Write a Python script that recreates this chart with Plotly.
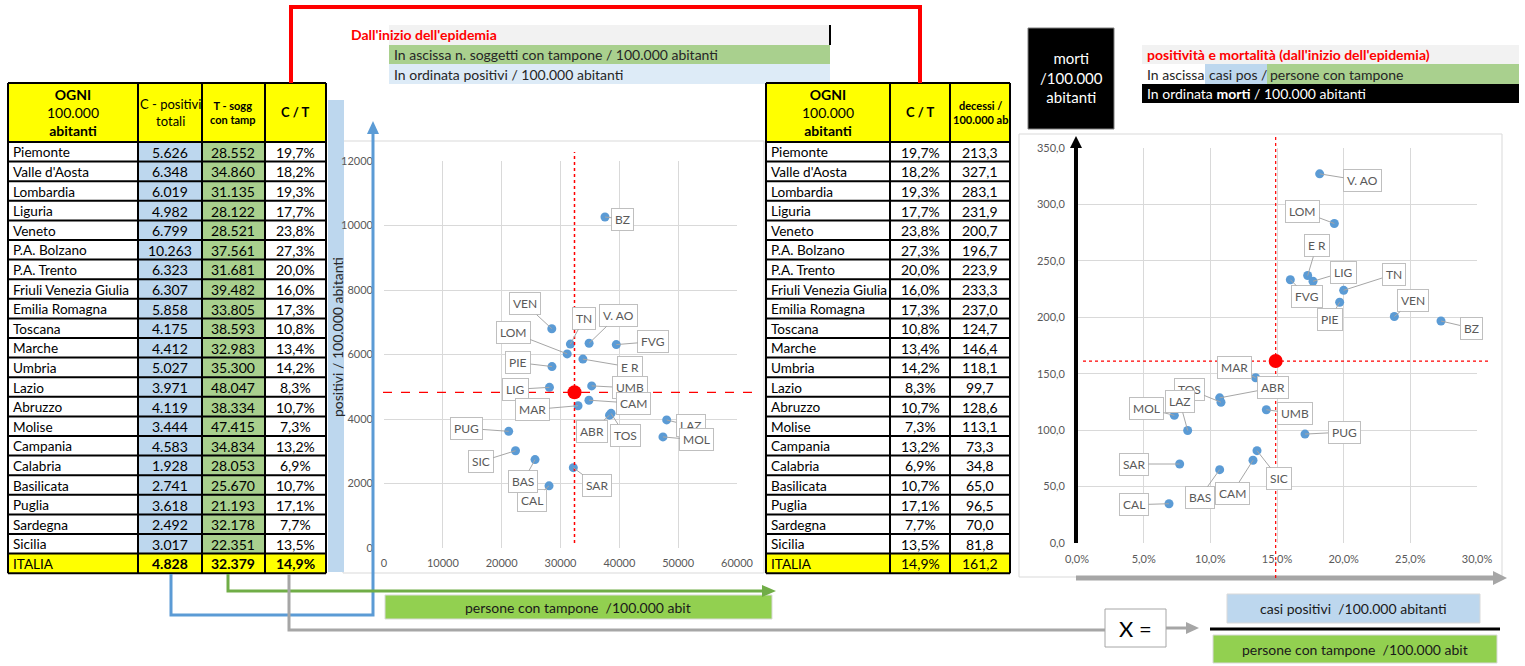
import plotly.graph_objects as go

W, H = 1525, 666

# ---------------- data ----------------
regions = ["Piemonte", "Valle d'Aosta", "Lombardia", "Liguria", "Veneto", "P.A. Bolzano",
           "P.A. Trento", "Friuli Venezia Giulia", "Emilia Romagna", "Toscana", "Marche",
           "Umbria", "Lazio", "Abruzzo", "Molise", "Campania", "Calabria", "Basilicata",
           "Puglia", "Sardegna", "Sicilia"]
abbr = ["PIE", "V. AO", "LOM", "LIG", "VEN", "BZ", "TN", "FVG", "E R", "TOS", "MAR",
        "UMB", "LAZ", "ABR", "MOL", "CAM", "CAL", "BAS", "PUG", "SAR", "SIC"]
positivi = [5626, 6348, 6019, 4982, 6799, 10263, 6323, 6307, 5858, 4175, 4412,
            5027, 3971, 4119, 3444, 4583, 1928, 2741, 3618, 2492, 3017]
tamponi = [28552, 34860, 31135, 28122, 28521, 37561, 31681, 39482, 33805, 38593, 32983,
           35300, 48047, 38334, 47415, 34834, 28053, 25670, 21193, 32178, 22351]
ct_pct = [19.7, 18.2, 19.3, 17.7, 23.8, 27.3, 20.0, 16.0, 17.3, 10.8, 13.4,
          14.2, 8.3, 10.7, 7.3, 13.2, 6.9, 10.7, 17.1, 7.7, 13.5]
decessi = [213.3, 327.1, 283.1, 231.9, 200.7, 196.7, 223.9, 233.3, 237.0, 124.7, 146.4,
           118.1, 99.7, 128.6, 113.1, 73.3, 34.8, 65.0, 96.5, 70.0, 81.8]
italia_pos = 4828
italia_tamp = 32379
italia_ct = 14.9
italia_dec = 161.2

# label box offsets (pixels) – layout only
off_mid = {"BZ": (18, 2), "VEN": (-27, -25), "TN": (14, -26), "V. AO": (29, -28),
           "FVG": (37, -3), "LOM": (-54, -21), "E R": (47, 8), "PIE": (-34, -4),
           "LIG": (-34, 2), "UMB": (38, 2), "CAM": (45, 3), "MAR": (-46, 4),
           "TOS": (14, 22), "ABR": (-18, 16), "LAZ": (24, 6), "MOL": (34, 3),
           "PUG": (-42, -3), "SIC": (-35, 11), "BAS": (-12, 22), "CAL": (-17, 15),
           "SAR": (24, 18)}
off_right = {"V. AO": (43, 7), "LOM": (-32, -12), "E R": (9, -30), "LIG": (30, -9),
             "FVG": (17, 17), "TN": (50, -16), "PIE": (-10, 17), "VEN": (19, -16),
             "BZ": (30, 7), "MAR": (-21, -10), "TOS": (-32, -13), "ABR": (53, -10),
             "MOL": (-28, -7), "LAZ": (-8, -29), "UMB": (29, 4), "PUG": (39, -2),
             "SIC": (22, 28), "CAM": (-21, 33), "SAR": (-46, 0), "BAS": (-20, 28),
             "CAL": (-35, 1)}

FONT = "Lato"
BLUE_PT = "#5B9BD5"
LBLUE = "#BDD7EE"
LGREEN = "#A9D08E"
GREEN = "#92D050"
YEL = "#FFFF00"
GRID = "#D9D9D9"
TXT = "#595959"


def px(x):
    return x / W


def py(y):
    return 1 - y / H


def fint(v):
    return f"{v:,}".replace(",", ".")


def fdec(v, suffix=""):
    return f"{v:.1f}".replace(".", ",") + suffix


fig = go.Figure()
annotations = []
shapes = []


def txt(x, y, s, size=14, color="#262626", xanchor="left", angle=0):
    annotations.append(dict(x=px(x), y=py(y), xref="paper", yref="paper", text=s, showarrow=False,
                            xanchor=xanchor, yanchor="middle", textangle=angle,
                            font=dict(family=FONT, size=size, color=color)))


def rect(x0, y0, x1, y1, fill, line="rgba(0,0,0,0)", lw=1, layer="below"):
    shapes.append(dict(type="rect", xref="paper", yref="paper", x0=px(x0), x1=px(x1),
                       y0=py(y1), y1=py(y0), fillcolor=fill, line=dict(color=line, width=lw),
                       layer=layer))


def path(pts, color, width, closed=False, fill=None, layer="above"):
    d = "M " + " L ".join(f"{px(x):.5f},{py(y):.5f}" for x, y in pts)
    if closed:
        d += " Z"
    shapes.append(dict(type="path", xref="paper", yref="paper", path=d,
                       line=dict(color=color, width=width if not closed else 0),
                       fillcolor=fill if fill else "rgba(0,0,0,0)", layer=layer))


# ---------------- tables (cells drawn from the data lists) ----------------
TOP, HEAD_B, ROW_H = 83, 142, 19.6


def draw_table(xedges, headers, header_sizes, columns, col_fills, aligns):
    nrows = len(columns[0])
    bottom = HEAD_B + nrows * ROW_H
    rect(xedges[0], TOP, xedges[-1], HEAD_B, YEL)
    for i, (h, s) in enumerate(zip(headers, header_sizes)):
        txt((xedges[i] + xedges[i + 1]) / 2, (TOP + HEAD_B) / 2, h, s, "black", "center")
    for c, col in enumerate(columns):
        for r, val in enumerate(col):
            y0 = HEAD_B + r * ROW_H
            rect(xedges[c], y0, xedges[c + 1], y0 + ROW_H, col_fills[c][r])
            if aligns[c] == "left":
                txt(xedges[c] + 2.5, y0 + ROW_H / 2 + 0.5, val, 13.6, "black", "left")
            else:
                txt((xedges[c] + xedges[c + 1]) / 2, y0 + ROW_H / 2 + 0.5, val, 14, "black", "center")
    for x in xedges:
        path([(x, TOP), (x, bottom)], "black", 2)
    path([(xedges[0], TOP), (xedges[-1], TOP)], "black", 2)
    for r in range(nrows + 1):
        y = HEAD_B + r * ROW_H
        path([(xedges[0], y), (xedges[-1], y)], "black", 2)


n = len(regions)
draw_table(
    [8, 138, 202, 265, 326],
    ["<b>OGNI</b><br>100.000<br><b>abitanti</b>", "C - positivi<br>totali",
     "<b>T - sogg<br>con tamp</b>", "<b>C / T</b>"],
    [14, 13, 11, 13],
    [regions + ["ITALIA"],
     [fint(v) for v in positivi] + [f"<b>{fint(italia_pos)}</b>"],
     [fint(v) for v in tamponi] + [f"<b>{fint(italia_tamp)}</b>"],
     [fdec(v, "%") for v in ct_pct] + [f"<b>{fdec(italia_ct, '%')}</b>"]],
    [["white"] * n + [YEL], [LBLUE] * n + [YEL], [LGREEN] * n + [YEL], ["white"] * n + [YEL]],
    ["left", "center", "center", "center"],
)
draw_table(
    [766, 890, 950, 1010],
    ["<b>OGNI</b><br>100.000<br><b>abitanti</b>", "<b>C / T</b>", "<b>decessi /<br>100.000 ab</b>"],
    [14, 13, 11],
    [regions + ["ITALIA"],
     [fdec(v, "%") for v in ct_pct] + [fdec(italia_ct, "%")],
     [fdec(v) for v in decessi] + [fdec(italia_dec)]],
    [["white"] * n + [YEL]] * 3,
    ["left", "center", "center"],
)

# ---------------- scatter: positivi vs tamponi ----------------
fig.add_trace(go.Scatter(x=tamponi, y=positivi, mode="markers", xaxis="x", yaxis="y",
                         marker=dict(color=BLUE_PT, size=9), hoverinfo="skip", showlegend=False))
fig.add_trace(go.Scatter(x=[italia_tamp], y=[italia_pos], mode="markers", xaxis="x", yaxis="y",
                         marker=dict(color="red", size=14), hoverinfo="skip", showlegend=False))

# ---------------- scatter: mortality vs positivity ----------------
fig.add_trace(go.Scatter(x=[v / 100 for v in ct_pct], y=decessi, mode="markers", xaxis="x2", yaxis="y2",
                         marker=dict(color=BLUE_PT, size=9), hoverinfo="skip", showlegend=False))
fig.add_trace(go.Scatter(x=[italia_ct / 100], y=[italia_dec], mode="markers", xaxis="x2", yaxis="y2",
                         marker=dict(color="red", size=14), hoverinfo="skip", showlegend=False))

for a, xv, yv in zip(abbr, tamponi, positivi):
    dx, dy = off_mid[a]
    annotations.append(dict(x=xv, y=yv, xref="x", yref="y", text=a, showarrow=True,
                            arrowhead=0, arrowwidth=1, arrowcolor="#A6A6A6", ax=dx, ay=dy,
                            bordercolor="#BFBFBF", borderwidth=1, borderpad=3, bgcolor="white",
                            font=dict(family=FONT, size=12, color=TXT)))
for a, xv, yv in zip(abbr, ct_pct, decessi):
    dx, dy = off_right[a]
    annotations.append(dict(x=xv / 100, y=yv, xref="x2", yref="y2", text=a, showarrow=True,
                            arrowhead=0, arrowwidth=1, arrowcolor="#A6A6A6", ax=dx, ay=dy,
                            bordercolor="#BFBFBF", borderwidth=1, borderpad=3, bgcolor="white",
                            font=dict(family=FONT, size=12, color=TXT)))

txt(349, 35, "<b>Dall'inizio dell'epidemia</b>", 14, "red")
txt(392, 55, "In ascissa n. soggetti con tampone / 100.000 abitanti", 14)
txt(392, 74, "In ordinata positivi / 100.000 abitanti", 14)
txt(337, 337, "positivi / 100.000 abitanti", 14, "#262626", "center", -90)
txt(578, 607, "persone con tampone  /100.000 abit", 14, "#1a1a1a", "center")
txt(1071, 77, "morti<br>/100.000<br>abitanti", 15, "white", "center")
txt(1145, 54, "<b>positività e mortalità (dall'inizio dell'epidemia)</b>", 14, "red")
txt(1145, 74, "In ascissa", 14)
txt(1207, 74, "casi pos /", 14)
txt(1268, 74, "persone con tampone", 14)
txt(1145, 93, "In ordinata <b>morti</b> / 100.000 abitanti", 14, "white")
txt(1135, 628, "X =", 22, "black", "center")
txt(1353, 608, "casi positivi  /100.000 abitanti", 14, "#1a1a1a", "center")
txt(1355, 649, "persone con tampone  /100.000 abit", 14, "#1a1a1a", "center")

# chart frames and bands
rect(343, 141, 764, 573, "white", GRID, 1)
rect(328, 100, 344, 572, LBLUE)
rect(389, 25, 830, 45, "#F2F2F2")
rect(829, 25, 831, 45, "black")
rect(389, 45, 830, 64, LGREEN)
rect(389, 64, 830, 84, "#DDEBF7")
rect(1019, 134, 1502, 577, "white", GRID, 1)
rect(1028, 28, 1114, 129, "black", "#7F7F7F", 1)
rect(1142, 45, 1519, 64, "#F2F2F2")
rect(1205, 64, 1267, 84, LBLUE)
rect(1267, 64, 1519, 84, LGREEN)
rect(1142, 84, 1519, 103, "black")
rect(385, 595, 772, 619, GREEN, GRID, 1)
rect(1105, 609, 1166, 647, "white", "#A6A6A6", 1)
rect(1227, 594, 1480, 623, LBLUE, GRID, 1)
rect(1213, 635, 1497, 663, GREEN, GRID, 1)

# connector lines
path([(291, 83), (291, 7), (920, 7), (920, 83)], "red", 4)
path([(171, 574), (171, 615), (373, 615), (373, 132)], BLUE_PT, 3)
path([(367, 134), (379, 134), (373, 121)], BLUE_PT, 0, True, BLUE_PT)
path([(228, 574), (228, 591), (764, 591)], "#70AD47", 3)
path([(762, 585), (762, 597), (776, 591)], "#70AD47", 0, True, "#70AD47")
path([(289, 574), (289, 630), (1105, 630)], "#A6A6A6", 3)
path([(1166, 628), (1188, 628)], "#A6A6A6", 3)
path([(1186, 622), (1186, 634), (1199, 628)], "#A6A6A6", 0, True, "#A6A6A6")
path([(1210, 629), (1500, 629)], "black", 3)
path([(1076, 543), (1076, 146)], "black", 4)
path([(1070, 148), (1082, 148), (1076, 136)], "black", 0, True, "black")
path([(1076, 578), (1494, 578)], "#A6A6A6", 5)
path([(1493, 571), (1493, 585), (1507, 578)], "#A6A6A6", 0, True, "#A6A6A6")

# reference lines for ITALIA
shapes.append(dict(type="line", xref="x", yref="paper", x0=italia_tamp, x1=italia_tamp,
                   y0=py(543), y1=py(152), line=dict(color="red", width=1.5, dash="dot")))
shapes.append(dict(type="line", xref="paper", yref="y", x0=px(383), x1=px(757),
                   y0=italia_pos, y1=italia_pos, line=dict(color="red", width=1.2, dash="dash")))
shapes.append(dict(type="line", xref="x2", yref="paper", x0=italia_ct / 100, x1=italia_ct / 100,
                   y0=py(578), y1=py(134), line=dict(color="red", width=1.2, dash="dot")))
shapes.append(dict(type="line", xref="paper", yref="y2", x0=px(1083), x1=px(1488),
                   y0=italia_dec, y1=italia_dec, line=dict(color="red", width=1.2, dash="dot")))

axis_common = dict(showgrid=True, gridcolor=GRID, gridwidth=1, zeroline=False, showline=False,
                   ticks="", automargin=False,
                   tickfont=dict(family=FONT, size=11, color=TXT))

fig.update_layout(
    width=W, height=H, margin=dict(l=0, r=0, t=0, b=0, autoexpand=False),
    paper_bgcolor="white", plot_bgcolor="rgba(0,0,0,0)",
    separators=",.",
    showlegend=False,
    font=dict(family=FONT),
    xaxis=dict(domain=[px(384), px(737)], range=[0, 60000], dtick=10000, tickformat="d",
               anchor="y", ticklabelstandoff=7, **axis_common),
    yaxis=dict(domain=[py(548), py(161)], range=[0, 12000], dtick=2000, tickformat="d",
               anchor="x", ticklabelstandoff=10, **axis_common),
    xaxis2=dict(domain=[px(1077), px(1477)], range=[0, 0.30], dtick=0.05, tickformat=".1%",
                anchor="y2", ticklabelstandoff=8, **axis_common),
    yaxis2=dict(domain=[py(543), py(148)], range=[0, 350], dtick=50, tickformat=".1f",
                anchor="x2", ticklabelstandoff=11, **axis_common),
    shapes=shapes,
    annotations=annotations,
)

fig.write_html("out.html", config={"displayModeBar": False},
               post_script="document.body.style.margin='0px';")
